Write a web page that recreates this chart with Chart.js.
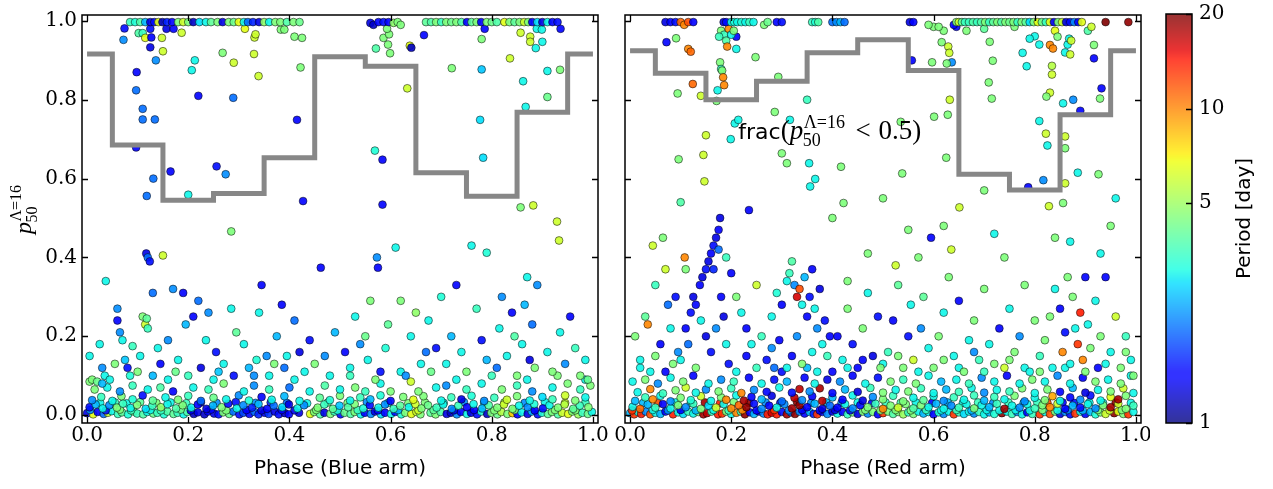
<!DOCTYPE html>
<html><head><meta charset="utf-8">
<script src="https://cdn.jsdelivr.net/npm/chart.js@4.4.1/dist/chart.umd.min.js"></script>
<style>
html,body{margin:0;padding:0;background:#fff;}
body{width:1273px;height:489px;position:relative;overflow:hidden;}
.box{position:absolute;top:0;height:489px;}
canvas{display:block;}
</style></head><body>
<div class="box" style="left:0;width:612px"><canvas id="c1" width="612" height="489"></canvas></div>
<div class="box" style="left:612px;width:538px"><canvas id="c2" width="538" height="489"></canvas></div>
<div class="box" style="left:1150px;width:123px"><canvas id="c3" width="123" height="489"></canvas></div>
<script>
// ---------------- data ----------------
const xTicks = [0, 0.2, 0.4, 0.6, 0.8, 1.0];
const yTicks = [0, 0.2, 0.4, 0.6, 0.8, 1.0];
const periodTicks = [1, 5, 10, 20];
const stepPhase = [0, 0.1, 0.2, 0.3, 0.4, 0.5, 0.6, 0.7, 0.8, 0.9, 1.0];
const blueFrac = [0.916, 0.685, 0.545, 0.562, 0.653, 0.909, 0.885, 0.615, 0.555, 0.768, 0.916];
const redFrac  = [0.924, 0.867, 0.800, 0.847, 0.919, 0.952, 0.874, 0.611, 0.571, 0.762, 0.924];

// [phase, p50, period]
const blueBand = [
[0,0.005,1.3],[0.012,0.002,6.5],[0.021,0.008,1.4],[0.033,0.003,2],[0.041,0.006,6],[0.049,0.01,3],[0.061,0.003,3.5],[0.069,0.007,4],[0.081,0.002,3.2],[0.092,0.009,4.5],[0.099,0.004,3.5],[0.111,0.002,3.8],[0.119,0.008,3],[0.131,0.004,4.2],[0.139,0.006,3.5],[0.152,0.002,3.2],[0.159,0.009,3.8],[0.171,0.003,4],[0.179,0.006,3.5],[0.191,0.002,3],[0.198,0.008,3.8],[0.211,0.003,1.2],[0.219,0.007,1.3],[0.232,0.002,1.2],[0.239,0.009,1.4],[0.251,0.004,1.3],[0.26,0.002,1.5],[0.269,0.007,4.5],[0.281,0.003,4.2],[0.289,0.009,2],[0.301,0.002,1.5],[0.309,0.006,1.8],[0.321,0.003,1.4],[0.331,0.008,2],[0.339,0.002,1.6],[0.351,0.006,1.4],[0.359,0.003,1.7],[0.371,0.009,1.3],[0.379,0.002,1.5],[0.391,0.005,1.2],[0.399,0.002,1.4],[0.419,0.006,1.3],[0.441,0.003,6.5],[0.449,0.008,4.5],[0.461,0.002,3.8],[0.469,0.006,1.3],[0.481,0.003,4.5],[0.489,0.009,3.5],[0.501,0.002,1.5],[0.509,0.006,4.2],[0.521,0.003,3.8],[0.529,0.008,4.5],[0.541,0.002,3],[0.549,0.006,1.4],[0.561,0.003,2.2],[0.569,0.009,1.3],[0.581,0.002,2.8],[0.589,0.006,1.4],[0.601,0.003,3],[0.609,0.008,1.5],[0.621,0.002,3.2],[0.629,0.006,4.5],[0.641,0.003,6.5],[0.651,0.008,6],[0.659,0.002,4.5],[0.679,0.006,4],[0.689,0.002,4.5],[0.699,0.008,3.8],[0.711,0.003,1.3],[0.719,0.006,1.2],[0.731,0.002,2.2],[0.739,0.008,1.4],[0.751,0.003,3],[0.759,0.006,1.3],[0.771,0.002,1.5],[0.779,0.009,3.2],[0.791,0.003,1.2],[0.799,0.006,4.5],[0.811,0.002,4.2],[0.819,0.008,5.5],[0.831,0.003,4.5],[0.841,0.005,8],[0.851,0.002,1.4],[0.859,0.007,3],[0.871,0.003,1.3],[0.879,0.009,2.5],[0.891,0.002,1.5],[0.899,0.006,3.2],[0.911,0.003,4],[0.919,0.008,4.5],[0.931,0.002,3.8],[0.939,0.006,6],[0.951,0.003,6.5],[0.959,0.009,4.5],[0.971,0.002,5],[0.979,0.006,3.5],[0.99,0.003,4.2],[0.998,0.008,3],
[0.006,0.013,2.2],[0.026,0.031,3],[0.037,0.012,1.5],[0.055,0.032,3.5],[0.065,0.014,4.5],[0.078,0.03,3],[0.087,0.012,3.5],[0.105,0.033,4],[0.125,0.013,3],[0.137,0.031,4.5],[0.146,0.012,3.5],[0.165,0.032,3],[0.185,0.014,4.2],[0.196,0.03,3.5],[0.205,0.012,1.3],[0.225,0.032,1.2],[0.245,0.014,1.4],[0.256,0.031,2.2],[0.275,0.012,4.5],[0.294,0.033,1.5],[0.315,0.013,1.4],[0.333,0.031,2.2],[0.345,0.012,1.3],[0.363,0.032,1.6],[0.385,0.013,1.4],[0.395,0.031,2],[0.41,0.012,1.3],[0.435,0.03,3],[0.453,0.013,4.5],[0.476,0.032,4],[0.495,0.012,3.2],[0.515,0.031,4.5],[0.535,0.013,3.5],[0.553,0.033,2.2],[0.575,0.012,1.4],[0.595,0.031,3],[0.615,0.013,2.5],[0.635,0.03,4.5],[0.655,0.012,6],[0.668,0.032,4.5],[0.685,0.013,4],[0.705,0.031,3],[0.725,0.012,1.3],[0.745,0.033,2.2],[0.765,0.013,1.4],[0.785,0.031,3],[0.805,0.012,4.5],[0.825,0.032,5],[0.845,0.013,4.5],[0.865,0.031,2.2],[0.885,0.012,1.4],[0.905,0.033,3],[0.925,0.013,4.5],[0.945,0.031,6],[0.965,0.012,4.5],[0.985,0.032,3.5],
[0.005,0.02,1.5],[0.017,0.027,2.5],[0.031,0.017,3],[0.044,0.025,2.2],[0.059,0.019,4.5],[0.071,0.029,3.5],[0.086,0.018,3],[0.099,0.026,4.5],[0.116,0.016,2.8],[0.129,0.024,3.5],[0.146,0.02,4.8],[0.159,0.028,3],[0.176,0.017,3.8],[0.189,0.025,4.5],[0.206,0.019,3],[0.219,0.027,1.4],[0.236,0.016,1.3],[0.249,0.024,2.5],[0.266,0.02,4.5],[0.279,0.029,1.5],[0.296,0.017,3],[0.309,0.025,2.2],[0.326,0.019,1.6],[0.339,0.028,2.5],[0.356,0.016,1.4],[0.369,0.024,2],[0.386,0.02,2.8],[0.399,0.027,1.3],[0.416,0.017,3],[0.429,0.025,2.2],[0.456,0.019,4.5],[0.469,0.027,3.5],[0.486,0.016,4],[0.499,0.024,2.6],[0.516,0.02,3.8],[0.529,0.028,4.5],[0.546,0.017,3.2],[0.559,0.025,1.5],[0.576,0.019,3],[0.589,0.027,2.2],[0.606,0.016,3.5],[0.619,0.024,4],[0.636,0.02,3],[0.649,0.028,6],[0.661,0.017,4.5],[0.674,0.025,4.2],[0.691,0.019,3.5],[0.704,0.027,3],[0.721,0.016,2.2],[0.734,0.024,3.5],[0.751,0.02,1.4],[0.764,0.028,3],[0.781,0.017,2.5],[0.794,0.025,3.8],[0.811,0.019,4.5],[0.824,0.027,6],[0.841,0.016,4.5],[0.854,0.024,3],[0.871,0.02,2.2],[0.884,0.028,3.2],[0.901,0.017,1.5],[0.914,0.025,3],[0.931,0.019,4.5],[0.944,0.027,5.5],[0.961,0.016,4],[0.974,0.024,3.5],[0.991,0.02,4.5],
[0.01,0.038,2.2],[0.028,0.046,3.5],[0.05,0.036,3],[0.068,0.048,4.5],[0.09,0.04,3.2],[0.11,0.05,1.5],[0.13,0.037,4],[0.155,0.045,3],[0.18,0.039,4.5],[0.2,0.049,3.5],[0.225,0.036,2],[0.25,0.044,4.2],[0.275,0.04,3],[0.3,0.05,2.2],[0.32,0.037,3.2],[0.345,0.046,1.4],[0.365,0.039,3],[0.39,0.048,2.5],[0.42,0.036,3],[0.46,0.044,4],[0.48,0.038,3.2],[0.5,0.049,4.5],[0.52,0.037,3],[0.54,0.045,3.5],[0.56,0.04,2.5],[0.58,0.05,3.2],[0.6,0.036,1.4],[0.625,0.046,4.5],[0.645,0.039,6.5],[0.665,0.048,4.5],[0.7,0.037,3],[0.72,0.045,3.5],[0.74,0.04,1.3],[0.76,0.049,3.2],[0.785,0.036,2.2],[0.805,0.044,3.5],[0.83,0.039,6],[0.85,0.048,4.5],[0.875,0.037,3],[0.9,0.046,2.8],[0.92,0.04,3.5],[0.945,0.05,6],[0.965,0.037,4.5],[0.985,0.045,3],
[0.015,0.065,4.5],[0.04,0.07,3],[0.065,0.06,2.2],[0.09,0.075,3.5],[0.12,0.065,3],[0.145,0.07,3.8],[0.17,0.06,1.4],[0.21,0.07,3],[0.24,0.065,3.5],[0.27,0.08,4.5],[0.31,0.06,3],[0.33,0.075,2.2],[0.36,0.065,3.5],[0.4,0.07,2],[0.44,0.06,3],[0.47,0.075,3.8],[0.5,0.065,3],[0.53,0.07,4.5],[0.55,0.06,3.5],[0.58,0.08,3],[0.6,0.06,4.5],[0.64,0.085,6],[0.655,0.06,4.5],[0.69,0.07,3],[0.71,0.075,2.2],[0.75,0.065,3.5],[0.78,0.08,3],[0.82,0.065,4.5],[0.85,0.075,3.5],[0.88,0.06,2.2],[0.92,0.07,3],[0.95,0.08,4.5],[0.975,0.065,3.5],[0.995,0.075,4.5],[0.005,0.085,4.5],[0.985,0.09,3],
[0.035,0.1,3],[0.1,0.11,4.5],[0.16,0.09,3],[0.2,0.1,3.5],[0.25,0.09,3],[0.33,0.1,2.2],[0.41,0.09,3],[0.52,0.1,3.5],[0.57,0.09,4.5],[0.62,0.11,3],[0.73,0.09,3],[0.8,0.1,3.5],[0.87,0.09,3],[0.93,0.1,4.5]
];
const blueLower = [
[0.005,0.15,3],[0.025,0.18,3],[0.037,0.34,3],[0.01,0.09,4.5],[0.02,0.085,4.2],[0.03,0.08,2.5],[0.045,0.09,3],[0.06,0.24,1.4],[0.065,0.21,2.2],[0.07,0.19,3],[0.075,0.14,2.6],[0.08,0.12,1.5],[0.085,0.1,3.2],[0.06,0.27,2.2],[0.09,0.175,3.5],[0.055,0.13,4.5],[0.03,0.12,2.2],
[0.11,0.25,4.5],[0.115,0.23,6],[0.118,0.245,4],[0.12,0.22,3.5],[0.117,0.41,1.3],[0.12,0.4,2],[0.124,0.39,1.5],[0.15,0.405,6],[0.13,0.31,2],[0.14,0.17,3],[0.145,0.13,1.4],[0.16,0.19,2.2],[0.17,0.32,2.2],[0.18,0.14,3],[0.19,0.31,1.4],[0.195,0.23,2.5],[0.175,0.11,4.2],[0.105,0.15,3],[0.13,0.1,2.5],
[0.22,0.29,2],[0.21,0.25,1.4],[0.235,0.19,3],[0.24,0.26,2.2],[0.255,0.16,1.5],[0.27,0.13,3],[0.285,0.27,3],[0.285,0.466,4.5],[0.295,0.21,4],[0.26,0.11,2.6],[0.225,0.12,1.3],[0.29,0.1,1.5],
[0.31,0.18,3],[0.32,0.12,2.5],[0.335,0.14,3.2],[0.34,0.26,3],[0.345,0.33,1.4],[0.355,0.15,2.2],[0.36,0.1,3],[0.37,0.13,4.5],[0.375,0.2,2.5],[0.385,0.28,1.4],[0.39,0.12,2],[0.395,0.15,3],
[0.41,0.24,2],[0.42,0.16,1.3],[0.43,0.11,3],[0.44,0.19,1.5],[0.45,0.13,4.5],[0.462,0.374,1.4],[0.47,0.15,2.2],[0.48,0.1,3],[0.49,0.21,2.5],
[0.51,0.16,1.4],[0.52,0.12,3],[0.53,0.25,3],[0.54,0.18,2.2],[0.55,0.2,4.2],[0.555,0.14,3],[0.56,0.29,4.5],[0.575,0.374,1.4],[0.573,0.4,2.2],[0.58,0.11,1.5],[0.59,0.17,3.2],[0.595,0.23,4],
[0.61,0.425,3],[0.62,0.29,4.5],[0.63,0.1,2.2],[0.64,0.2,3],[0.65,0.26,4.8],[0.66,0.13,3],[0.67,0.16,2],[0.675,0.24,3],[0.68,0.11,4.2],[0.69,0.17,1.5],[0.7,0.3,3.2],
[0.71,0.13,3],[0.72,0.2,2.5],[0.73,0.33,1.4],[0.74,0.16,3],[0.75,0.11,4.5],[0.76,0.43,3],[0.77,0.27,3.5],[0.78,0.19,1.5],[0.79,0.412,3.2],[0.79,0.14,2.5],
[0.81,0.12,2],[0.815,0.22,3],[0.82,0.3,2.2],[0.83,0.15,3],[0.84,0.26,1.4],[0.845,0.2,3.8],[0.85,0.1,4.5],[0.86,0.18,3],[0.865,0.28,2.5],[0.87,0.35,3],[0.875,0.14,1.3],[0.88,0.23,2],[0.885,0.12,4.5],[0.89,0.33,2.2],
[0.91,0.16,3],[0.92,0.11,4.5],[0.929,0.491,6],[0.933,0.443,6],[0.935,0.21,3],[0.945,0.13,2.2],[0.955,0.25,1.4],[0.965,0.17,3.5],[0.975,0.1,4.5],[0.985,0.14,3],[0.99,0.09,4.2]
];
const blueUpper = [
[0.097,0.679,1.4],[0.131,0.6,2],[0.165,0.618,1.4],[0.118,0.556,2],[0.2,0.559,3],[0.256,0.631,1.5],[0.274,0.611,2.2],[0.427,0.543,1.4],[0.11,0.777,2],[0.11,0.75,2],[0.134,0.75,2],[0.415,0.749,1.4],[0.569,0.671,3.2],[0.584,0.648,1.4],[0.584,0.534,1.4],[0.777,0.749,2.8],[0.783,0.653,2.8],[0.857,0.527,4.5],[0.882,0.532,6],
[0.074,0.981,1.5],[0.072,0.952,2.2],[0.102,0.969,3.8],[0.11,0.969,3.5],[0.115,0.957,6.5],[0.127,0.958,1.4],[0.125,0.98,1.5],[0.125,0.933,1.3],[0.148,0.957,6],[0.15,0.923,6],[0.136,0.9,2.2],[0.157,0.98,1.3],[0.171,0.98,1.4],[0.187,0.97,6],[0.213,0.9,3],[0.207,0.875,3],[0.268,0.919,4.5],[0.29,0.894,6],[0.33,0.916,6],[0.339,0.86,6],[0.331,0.958,6],[0.333,0.966,6],[0.312,0.98,6.5],[0.383,0.978,4.5],[0.39,0.978,4.5],[0.41,0.96,4.5],[0.425,0.957,4.5],[0.422,0.882,4.5],[0.098,0.87,1.4],[0.097,0.824,2],[0.22,0.81,1.4],[0.289,0.805,2],
[0.586,0.957,4.5],[0.597,0.966,4.5],[0.593,0.98,4.5],[0.571,0.93,3.8],[0.595,0.94,4.5],[0.599,0.918,4.5],[0.638,0.937,6.5],[0.641,0.932,1.2],[0.666,0.964,1.4],[0.633,0.829,6],[0.721,0.88,4.5],[0.78,0.877,2.6],[0.78,0.954,4.5],[0.786,0.98,1.4],[0.836,0.905,6],[0.876,0.96,6],[0.876,0.947,6],[0.887,0.931,3],[0.9,0.947,3],[0.889,0.98,3],[0.899,0.978,3],[0.862,0.847,3],[0.91,0.873,3],[0.935,0.876,4.5],[0.91,0.807,4.2],[0.867,0.782,3],[0.936,0.98,1.4],[0.857,0.97,6]
];
const blueTopRow = [
[0.085,0.997,3.5],[0.095,0.997,3.2],[0.105,0.997,3.8],[0.115,0.997,2.5],[0.125,0.997,1.3],[0.133,0.997,1.5],[0.141,0.997,6.5],[0.149,0.997,1.2],[0.158,0.997,1.6],[0.168,0.997,1.4],[0.18,0.997,4.5],[0.19,0.997,6],[0.2,0.997,4.5],[0.21,0.997,1.2],[0.222,0.997,2.8],[0.235,0.997,3],[0.245,0.997,4],[0.258,0.997,4.5],[0.268,0.997,1.3],[0.28,0.997,4.5],[0.29,0.997,4.2],[0.3,0.997,6.5],[0.31,0.997,3],[0.318,0.997,2],[0.328,0.997,1.6],[0.34,0.997,1.3],[0.35,0.997,4.8],[0.36,0.997,3],[0.372,0.997,4.5],[0.382,0.997,4.5],[0.395,0.997,3.8],[0.408,0.997,4.5],[0.42,0.997,4.2],
[0.56,0.995,1.3],[0.566,0.99,1.2],[0.576,0.997,1.4],[0.586,0.997,1.5],[0.596,0.997,1.4],[0.606,0.995,4.8],[0.614,0.997,4.5],[0.62,0.99,4.5],
[0.67,0.997,4],[0.68,0.997,3.8],[0.69,0.997,4.5],[0.7,0.997,3.5],[0.71,0.997,4.5],[0.72,0.997,4.2],[0.73,0.997,4.5],[0.74,0.997,3.8],[0.751,0.997,1.4],[0.76,0.997,4],[0.77,0.997,4.5],[0.779,0.997,1.4],[0.79,0.997,4.5],[0.8,0.997,4.2],[0.81,0.997,3.8],[0.825,0.997,6.5],[0.835,0.997,4.5],[0.845,0.997,4],[0.855,0.997,4.5],[0.864,0.997,6],[0.872,0.997,4.5],[0.88,0.997,1.4],[0.89,0.997,2.8],[0.9,0.997,1.3],[0.91,0.997,3],[0.92,0.997,1.4],[0.93,0.997,1.5]
];

const redBand = [
[0,0.005,2.5],[0.008,0.002,13],[0.016,0.008,3],[0.022,0.003,14],[0.031,0.009,2.2],[0.04,0.002,12],[0.05,0.006,3],[0.06,0.003,2.5],[0.07,0.009,1.4],[0.085,0.002,14],[0.095,0.007,3],[0.105,0.003,2.8],[0.115,0.009,3.5],[0.125,0.004,3],[0.135,0.008,4.5],[0.145,0.002,18],[0.152,0.005,17],[0.161,0.009,3.5],[0.174,0.002,14],[0.182,0.004,13],[0.19,0.009,4.5],[0.2,0.003,3],[0.21,0.006,10],[0.219,0.009,3.5],[0.227,0.002,19],[0.237,0.007,1.4],[0.245,0.003,2.5],[0.255,0.009,1.3],[0.264,0.004,2.2],[0.272,0.002,14],[0.28,0.006,16],[0.29,0.002,14],[0.3,0.008,1.5],[0.31,0.002,18],[0.318,0.007,2],[0.326,0.003,19],[0.335,0.009,2.2],[0.345,0.004,1.4],[0.355,0.008,2.5],[0.363,0.003,1.6],[0.37,0.002,13],[0.38,0.008,1.4],[0.39,0.003,2.2],[0.4,0.009,1.3],[0.41,0.004,3],[0.42,0.008,1.4],[0.43,0.002,3.5],[0.44,0.007,4.5],[0.45,0.003,1.3],[0.46,0.009,4.5],[0.47,0.004,2.2],[0.48,0.008,4.5],[0.49,0.002,1.4],[0.5,0.005,13],[0.51,0.009,4.5],[0.52,0.003,3.8],[0.53,0.008,4.5],[0.54,0.002,5],[0.55,0.007,3.5],[0.56,0.003,4.5],[0.57,0.009,3],[0.58,0.004,2.5],[0.59,0.008,3],[0.6,0.002,1.4],[0.61,0.007,3.2],[0.62,0.003,2.2],[0.63,0.009,3],[0.64,0.002,13],[0.65,0.007,3.5],[0.66,0.003,2.8],[0.67,0.009,3],[0.68,0.004,2.2],[0.69,0.008,3.5],[0.7,0.002,3],[0.71,0.007,2.5],[0.72,0.003,3.2],[0.735,0.005,19],[0.745,0.009,3],[0.755,0.003,3.5],[0.765,0.008,2.2],[0.775,0.002,3],[0.785,0.007,1.4],[0.795,0.003,3.5],[0.81,0.002,13],[0.82,0.008,3],[0.83,0.003,12],[0.84,0.009,4.5],[0.85,0.003,1.3],[0.86,0.008,2.2],[0.87,0.002,1.5],[0.88,0.004,13],[0.89,0.009,3],[0.9,0.003,1.4],[0.91,0.008,2.5],[0.92,0.002,3.2],[0.93,0.007,4.5],[0.94,0.003,6],[0.957,0.005,19],[0.965,0.009,6.5],[0.975,0.003,4.5],[0.985,0.002,13],[0.995,0.008,3],
[0.004,0.012,13],[0.026,0.031,2.5],[0.045,0.013,3],[0.055,0.03,12],[0.075,0.012,2.2],[0.09,0.032,3],[0.1,0.013,1.4],[0.12,0.031,3.5],[0.13,0.012,2.5],[0.148,0.032,18],[0.165,0.013,3],[0.178,0.03,14],[0.195,0.012,3.5],[0.205,0.033,4.5],[0.222,0.013,10],[0.235,0.031,19],[0.25,0.012,1.4],[0.268,0.032,2.2],[0.285,0.013,13],[0.297,0.031,1.5],[0.314,0.012,2.2],[0.33,0.033,19],[0.34,0.013,1.4],[0.358,0.031,2.2],[0.375,0.012,1.4],[0.388,0.032,2.5],[0.405,0.013,1.3],[0.418,0.031,2.2],[0.435,0.012,1.5],[0.45,0.032,3],[0.465,0.013,4.5],[0.478,0.03,1.4],[0.495,0.012,4.5],[0.505,0.032,3.5],[0.525,0.013,4.5],[0.535,0.031,3.8],[0.555,0.012,4.5],[0.565,0.032,3],[0.585,0.013,3.5],[0.597,0.031,1.4],[0.615,0.012,3],[0.628,0.032,2.5],[0.645,0.013,3.5],[0.658,0.031,3],[0.675,0.012,2.5],[0.688,0.032,3.5],[0.705,0.013,3],[0.718,0.031,2.2],[0.73,0.012,3],[0.748,0.032,3.5],[0.762,0.013,3],[0.778,0.031,2.5],[0.79,0.012,3],[0.805,0.032,3.5],[0.815,0.013,4.5],[0.825,0.031,12],[0.845,0.012,3],[0.855,0.032,1.4],[0.865,0.013,2.2],[0.878,0.031,1.5],[0.895,0.012,2.5],[0.908,0.032,3],[0.925,0.013,4.5],[0.935,0.031,3],[0.948,0.012,6],[0.96,0.032,19],[0.972,0.013,4.5],[0.99,0.031,3],
[0.005,0.021,3],[0.02,0.016,11],[0.035,0.027,2.5],[0.05,0.019,3.5],[0.065,0.028,1.4],[0.08,0.017,3],[0.095,0.025,4.5],[0.11,0.02,2.2],[0.125,0.029,3.5],[0.14,0.016,4.5],[0.155,0.024,2.8],[0.17,0.019,6],[0.185,0.028,3],[0.2,0.017,10],[0.215,0.025,11],[0.23,0.02,19],[0.245,0.029,1.5],[0.26,0.016,2.2],[0.275,0.024,1.4],[0.29,0.019,3],[0.305,0.028,2.2],[0.32,0.017,18],[0.335,0.025,19],[0.35,0.02,1.4],[0.365,0.029,2.5],[0.38,0.016,1.3],[0.395,0.024,2],[0.41,0.019,1.4],[0.425,0.028,3],[0.44,0.017,2.2],[0.455,0.025,1.5],[0.47,0.02,4.5],[0.485,0.029,3.5],[0.5,0.016,10],[0.515,0.024,4.5],[0.53,0.019,6],[0.545,0.028,4.5],[0.56,0.017,3.8],[0.575,0.025,4.5],[0.59,0.02,3],[0.605,0.029,2.5],[0.62,0.016,3],[0.635,0.024,2.2],[0.65,0.019,3.5],[0.665,0.028,3],[0.68,0.017,4.5],[0.695,0.025,3],[0.71,0.02,2.5],[0.725,0.029,3.5],[0.74,0.016,18],[0.755,0.024,3],[0.77,0.019,2.2],[0.785,0.028,3],[0.8,0.017,3.5],[0.815,0.025,4.5],[0.83,0.02,10],[0.845,0.029,6],[0.86,0.016,1.4],[0.875,0.024,2.5],[0.89,0.019,1.5],[0.905,0.028,3],[0.92,0.017,2.2],[0.935,0.025,4.5],[0.95,0.02,18],[0.965,0.029,6],[0.98,0.016,4.5],[0.995,0.024,3.5],
[0.01,0.036,2.5],[0.03,0.045,3.5],[0.045,0.04,10],[0.06,0.049,3],[0.08,0.035,2.2],[0.1,0.044,4.5],[0.12,0.038,3.2],[0.14,0.048,6],[0.16,0.036,3],[0.18,0.045,4.5],[0.19,0.039,10],[0.21,0.05,3],[0.225,0.037,18],[0.24,0.046,1.4],[0.26,0.04,2.5],[0.28,0.049,1.3],[0.3,0.035,2],[0.325,0.044,17],[0.34,0.038,2.2],[0.36,0.048,1.4],[0.38,0.036,17],[0.4,0.045,2.5],[0.42,0.039,1.4],[0.44,0.05,3],[0.46,0.037,1.3],[0.48,0.046,2.2],[0.5,0.04,4.5],[0.52,0.049,3.5],[0.54,0.035,4.5],[0.56,0.044,3],[0.58,0.038,4],[0.6,0.048,3],[0.62,0.036,2.2],[0.64,0.045,3.5],[0.66,0.039,3],[0.68,0.05,3.5],[0.7,0.037,2.5],[0.72,0.046,3.5],[0.74,0.04,3],[0.76,0.049,4.5],[0.78,0.035,2.2],[0.8,0.044,3],[0.82,0.038,4.5],[0.835,0.048,9],[0.85,0.036,3],[0.87,0.045,1.4],[0.89,0.039,2.2],[0.91,0.05,1.5],[0.93,0.037,3],[0.95,0.046,6.5],[0.965,0.04,18],[0.98,0.049,4.5],
[0.015,0.058,3],[0.04,0.066,10],[0.065,0.055,3.5],[0.09,0.063,4.5],[0.11,0.07,6],[0.13,0.057,3],[0.15,0.065,2.2],[0.175,0.06,4.5],[0.2,0.068,3.5],[0.22,0.056,10],[0.245,0.064,2.2],[0.27,0.059,1.4],[0.295,0.07,3],[0.32,0.057,1.5],[0.335,0.066,17],[0.355,0.06,2.2],[0.375,0.068,18],[0.4,0.056,1.4],[0.425,0.065,2.5],[0.45,0.059,1.3],[0.475,0.069,3.5],[0.5,0.057,4.5],[0.525,0.064,3],[0.55,0.06,4.5],[0.575,0.068,3.5],[0.6,0.056,3],[0.625,0.065,2.5],[0.65,0.059,3.5],[0.675,0.069,3],[0.7,0.057,2.2],[0.725,0.064,3],[0.75,0.06,3.5],[0.775,0.068,4.5],[0.8,0.056,3],[0.825,0.065,4.5],[0.85,0.059,1.4],[0.875,0.069,2.5],[0.9,0.057,1.3],[0.925,0.064,3],[0.95,0.06,4.5],[0.975,0.068,6],[0.995,0.056,3],
[0.005,0.085,3],[0.03,0.09,4.5],[0.055,0.08,2.2],[0.08,0.095,3],[0.105,0.085,4.5],[0.125,0.1,1.4],[0.155,0.08,3],[0.18,0.09,2.2],[0.205,0.085,3.5],[0.235,0.095,1.4],[0.26,0.08,3],[0.285,0.09,1.5],[0.31,0.085,2.5],[0.345,0.095,1.4],[0.365,0.08,3],[0.39,0.09,1.3],[0.415,0.085,2.2],[0.44,0.1,1.4],[0.465,0.08,3],[0.49,0.095,1.5],[0.515,0.085,4.5],[0.54,0.09,3.5],[0.565,0.08,4.5],[0.59,0.1,3],[0.615,0.085,2.5],[0.645,0.09,3],[0.67,0.08,3.5],[0.695,0.095,2.2],[0.72,0.085,3],[0.745,0.1,1.4],[0.77,0.08,3],[0.795,0.09,4.5],[0.82,0.085,3],[0.845,0.1,2.2],[0.87,0.08,3],[0.895,0.095,1.4],[0.92,0.085,4.5],[0.945,0.09,3],[0.97,0.08,4.5],[0.99,0.1,3],
[0.02,0.12,3],[0.05,0.15,4.5],[0.07,0.11,1.4],[0.1,0.14,3],[0.13,0.12,4.5],[0.21,0.11,3],[0.23,0.15,1.4],[0.25,0.12,3.5],[0.28,0.17,2.2],[0.3,0.11,1.5],[0.35,0.12,2.5],[0.37,0.11,3],[0.4,0.11,1.4],[0.43,0.12,3],[0.46,0.14,1.4],[0.5,0.13,3],[0.53,0.15,4.5],[0.57,0.11,3],[0.62,0.14,4.5],[0.65,0.12,3],[0.68,0.16,2.2],[0.7,0.11,3.5],[0.75,0.14,4.5],[0.78,0.12,3],[0.81,0.11,4.5],[0.86,0.12,3],[0.9,0.11,4.5],[0.94,0.13,3],[0.98,0.16,4.5]
];
const redLower = [
[0.01,0.2,4.5],[0.02,0.14,3],[0.03,0.25,4],[0.04,0.11,3],[0.05,0.33,3.5],[0.06,0.18,1.4],[0.07,0.37,6],[0.075,0.28,2],[0.08,0.22,3],[0.085,0.13,4.5],[0.09,0.3,1.5],[0.095,0.16,2.2],[0.108,0.4,10],[0.11,0.37,4.5],[0.045,0.43,6],[0.065,0.45,4.5],[0.035,0.23,10],
[0.138,0.33,1.4],[0.143,0.35,1.3],[0.15,0.37,1.5],[0.155,0.39,1.3],[0.16,0.41,1.4],[0.165,0.43,1.5],[0.17,0.45,1.3],[0.175,0.47,1.4],[0.178,0.5,1.3],[0.175,0.42,2],[0.165,0.37,1.6],[0.13,0.28,1.4],[0.125,0.3,1.3],[0.12,0.26,1.5],[0.11,0.22,1.4],[0.115,0.18,2],[0.14,0.24,3],[0.15,0.2,1.3],[0.16,0.16,1.5],[0.17,0.22,2.2],[0.18,0.3,1.4],[0.185,0.25,1.3],[0.19,0.18,3],[0.195,0.13,1.5],[0.19,0.4,3.5],[0.2,0.36,1.4],
[0.21,0.3,4.5],[0.22,0.26,3],[0.23,0.22,1.4],[0.24,0.18,3],[0.25,0.33,6],[0.26,0.2,3.5],[0.27,0.14,1.5],[0.28,0.25,3],[0.285,0.12,2],[0.29,0.31,3.2],[0.295,0.19,1.4],[0.3,0.28,1.4],
[0.31,0.34,3],[0.315,0.36,3.5],[0.32,0.39,3.8],[0.325,0.33,2.2],[0.33,0.3,16],[0.335,0.32,12],[0.34,0.28,3],[0.345,0.35,2.5],[0.35,0.25,1.4],[0.355,0.3,1.5],[0.36,0.37,1.4],[0.365,0.27,3],[0.37,0.22,2.2],[0.375,0.32,1.3],[0.38,0.18,3],[0.385,0.24,1.5],[0.39,0.15,3.5],[0.395,0.2,1.4],[0.33,0.2,2.2],[0.32,0.15,1.4],[0.31,0.12,3],[0.34,0.13,4.5],[0.36,0.16,3],
[0.41,0.2,1.4],[0.42,0.14,3],[0.43,0.27,4.5],[0.44,0.18,1.5],[0.45,0.12,1.4],[0.46,0.22,4.5],[0.47,0.31,3],[0.48,0.15,1.3],[0.49,0.25,1.5],[0.495,0.12,4.5],[0.43,0.34,4.5],[0.47,0.41,4.5],
[0.51,0.16,3.5],[0.52,0.24,1.4],[0.53,0.33,4],[0.54,0.12,4.5],[0.55,0.2,1.5],[0.555,0.28,3],[0.56,0.14,6],[0.57,0.4,4.5],[0.575,0.22,2.2],[0.58,0.3,4],[0.59,0.17,3],[0.595,0.45,1.4],[0.6,0.12,4.5],[0.55,0.47,4.5],[0.525,0.38,6],
[0.61,0.2,4.5],[0.62,0.26,3],[0.63,0.35,4.5],[0.635,0.42,6],[0.64,0.15,3],[0.65,0.29,1.4],[0.66,0.11,4.5],[0.67,0.19,3],[0.68,0.24,4.5],[0.69,0.14,3.5],[0.7,0.32,4.5],[0.62,0.48,4.5],
[0.71,0.18,3],[0.72,0.13,4.5],[0.73,0.22,1.4],[0.74,0.12,6],[0.75,0.27,3],[0.76,0.16,4.5],[0.77,0.2,2.2],[0.78,0.33,4.5],[0.79,0.11,3],[0.8,0.24,4.5],[0.74,0.4,4.5],[0.72,0.46,3],
[0.81,0.15,3.5],[0.82,0.19,4.5],[0.83,0.25,4.5],[0.835,0.12,3],[0.84,0.32,3],[0.85,0.27,1.4],[0.855,0.16,10],[0.86,0.21,1.5],[0.865,0.35,4.5],[0.87,0.13,3],[0.875,0.3,4.5],[0.88,0.22,3],[0.885,0.18,13],[0.89,0.26,14],[0.895,0.14,10],[0.9,0.35,1.4],[0.84,0.45,4.5],[0.87,0.44,3],
[0.905,0.23,3],[0.91,0.17,4.5],[0.92,0.29,3],[0.925,0.12,1.4],[0.93,0.2,4.5],[0.94,0.35,1.4],[0.95,0.16,3],[0.96,0.25,6],[0.97,0.12,4.5],[0.98,0.2,3.5],[0.99,0.14,3],[0.995,0.1,4.5],[0.93,0.41,3],[0.95,0.48,4.5]
];
const redUpper = [
[0.1,0.54,3.8],[0.147,0.593,6],[0.145,0.66,6],[0.096,0.649,4.5],[0.15,0.71,6],[0.199,0.7,3],[0.207,0.74,3],[0.214,0.749,3],[0.286,0.769,4.5],[0.316,0.749,3],[0.3,0.664,4.5],[0.31,0.639,4.5],[0.354,0.639,3],[0.366,0.599,3],[0.356,0.58,3],[0.417,0.63,4.5],[0.422,0.538,4.5],[0.538,0.613,4.5],[0.535,0.744,4.5],[0.601,0.757,4.5],[0.628,0.762,4.5],[0.625,0.653,4.5],[0.632,0.8,6],[0.651,0.527,6],[0.235,0.52,1.4],[0.4,0.5,4.5],[0.5,0.55,4.5],[0.7,0.57,4.5],[0.96,0.55,3],
[0.072,0.946,1.4],[0.091,0.956,4.5],[0.115,0.929,10],[0.12,0.922,11],[0.124,0.84,11],[0.094,0.816,4.5],[0.14,0.81,6],[0.171,0.797,4.5],[0.173,0.824,3],[0.178,0.895,4.5],[0.18,0.878,3.5],[0.182,0.874,4.5],[0.184,0.857,10],[0.186,0.837,10],[0.21,0.929,3],[0.21,0.96,1.4],[0.248,0.908,4.5],[0.293,0.858,4.5],[0.35,0.8,3.5],
[0.18,0.975,4.5],[0.186,0.965,3.5],[0.19,0.95,3.8],[0.195,0.98,10],[0.2,0.965,3],[0.205,0.975,4.5],[0.176,0.96,3.5],[0.192,0.935,10],
[0.597,0.895,4.5],[0.616,0.946,4.5],[0.629,0.935,6],[0.631,0.919,6],[0.636,0.895,2.2],[0.626,0.892,4.5],[0.557,0.9,1.4],[0.6,0.985,4.5],[0.62,0.975,4.5],[0.645,0.985,1.4],[0.665,0.975,4.5],[0.7,0.98,4],
[0.711,0.947,4.5],[0.717,0.899,4.5],[0.709,0.844,4.5],[0.715,0.803,4.5],[0.776,0.919,3],[0.784,0.885,3],[0.8,0.961,3],[0.809,0.94,3],[0.79,0.955,3],[0.76,0.985,4.5],[0.83,0.939,10],[0.836,0.93,10],[0.834,0.886,5.5],[0.834,0.864,6],[0.83,0.818,6],[0.823,0.808,4.5],[0.84,0.975,6.5],[0.845,0.96,4.5],[0.86,0.92,3],[0.865,0.94,3],[0.87,0.915,6],[0.868,0.955,3],[0.872,0.95,6],[0.905,0.975,3.8],[0.912,0.985,6],[0.917,0.939,4.5],[0.917,0.905,1.4],[0.932,0.829,1.4],[0.929,0.803,4.5],[0.876,0.8,2.2],[0.856,0.791,3],[0.89,0.772,1.4],[0.809,0.746,3],[0.822,0.714,6],[0.825,0.684,3],[0.86,0.707,6],[0.86,0.677,4.5],[0.885,0.615,3],[0.926,0.611,4.5],[0.817,0.596,2.2],[0.787,0.578,1.4],[0.86,0.588,6],[0.828,0.53,6],[0.856,0.538,4.5]
];
const redTopRow = [
[0.07,0.997,1.3],[0.08,0.997,1.4],[0.09,0.997,1.5],[0.1,0.997,11],[0.107,0.99,10],[0.115,0.997,12],[0.125,0.997,1.4],
[0.185,0.997,1.3],[0.19,0.997,1.5],[0.2,0.997,3],[0.206,0.997,3.2],[0.212,0.997,3],[0.22,0.997,3.2],[0.228,0.997,3],[0.236,0.997,3.5],[0.244,0.997,3],
[0.265,0.99,4.5],[0.272,0.997,4.2],[0.29,0.997,1.4],[0.3,0.997,1.5],
[0.36,0.997,3.5],[0.366,0.997,3.2],[0.372,0.997,3.8],
[0.4,0.997,2],[0.408,0.997,2.2],[0.416,0.997,2.5],[0.424,0.997,2],
[0.553,0.997,1.3],[0.56,0.997,1.4],[0.59,0.99,4.5],[0.61,0.985,4.5],
[0.64,0.99,1.4],[0.645,0.997,4.5],[0.65,0.997,6],[0.656,0.997,4],[0.662,0.997,3.5],[0.67,0.997,3.5],[0.678,0.997,3.8],[0.686,0.997,3.5],[0.694,0.997,3.8],[0.702,0.997,4.5],[0.71,0.997,3.5],[0.718,0.997,4],[0.726,0.997,4.5],[0.734,0.997,3.8],[0.742,0.997,4.5],[0.75,0.997,4.2],[0.758,0.997,4.5],[0.766,0.997,3.5],[0.774,0.997,4.5],[0.782,0.997,4],[0.79,0.997,2.8],[0.798,0.997,4.5],[0.806,0.997,6.5],[0.814,0.997,4.2],[0.822,0.997,3.5],[0.83,0.997,6.5],[0.838,0.997,1.4],[0.846,0.997,4.5],[0.854,0.997,6],[0.862,0.997,1.3],[0.87,0.997,1.5],[0.878,0.997,2.2],[0.886,0.997,1.4],[0.893,0.997,6.5],[0.94,0.997,20],[0.985,0.997,19]
];

const bluePoints = [...blueBand, ...blueLower, ...blueUpper, ...blueTopRow];
const redPoints = [...redBand, ...redLower, ...redUpper, ...redTopRow];

// ---------------- colour map (jet) ----------------
const jetR = [[0,0],[0.35,0],[0.66,1],[0.89,1],[1,0.5]];
const jetG = [[0,0],[0.125,0],[0.375,1],[0.64,1],[0.91,0],[1,0]];
const jetB = [[0,0.5],[0.11,1],[0.34,1],[0.65,0],[1,0]];
function seg(s, t){ for(let i=1;i<s.length;i++){ if(t<=s[i][0]){ const a=s[i-1], b=s[i]; return a[1]+(b[1]-a[1])*(t-a[0])/(b[0]-a[0]); } } return s[s.length-1][1]; }
function jet(t, a){ t=Math.max(0,Math.min(1,t)); return 'rgba('+Math.round(255*seg(jetR,t))+','+Math.round(255*seg(jetG,t))+','+Math.round(255*seg(jetB,t))+','+a+')'; }
const PMIN = 1, PMAX = 20;
function periodColor(p, a){ return jet(Math.log(p/PMIN)/Math.log(PMAX/PMIN), a); }

// ---------------- helpers ----------------
const SERIF = '"DejaVu Serif", "Liberation Serif", serif';
const MATH = '"Liberation Serif", "DejaVu Serif", serif';
const SANS = '"DejaVu Sans", sans-serif';
const tickFont = {family: SERIF, size: 20, lineHeight: 1.2};

function frameTicks(chart){
  const {ctx, chartArea: a, scales: {x, y}} = chart;
  ctx.save();
  ctx.strokeStyle = '#000'; ctx.lineWidth = 1.3;
  ctx.beginPath();
  xTicks.forEach(v => { const px = Math.round(x.getPixelForValue(v))+0.5;
    ctx.moveTo(px, a.bottom); ctx.lineTo(px, a.bottom-6);
    ctx.moveTo(px, a.top); ctx.lineTo(px, a.top+6); });
  yTicks.forEach(v => { const py = Math.round(y.getPixelForValue(v))+0.5;
    ctx.moveTo(a.left, py); ctx.lineTo(a.left+6, py);
    ctx.moveTo(a.right, py); ctx.lineTo(a.right-6, py); });
  ctx.stroke();
  ctx.lineWidth = 1.5;
  ctx.strokeRect(a.left, a.top, a.right-a.left, a.bottom-a.top);
  ctx.restore();
}

function zeroPad(s){ s.paddingLeft=0; s.paddingRight=0; s.paddingTop=0; s.paddingBottom=0; }

function panelConfig(points, frac, opts){
  return {
    data: { datasets: [
      { type:'line', label:'frac', data: stepPhase.map((v,i)=>({x:v, y:frac[i]})), stepped:'middle',
        borderColor:'#878787', borderWidth:5, pointRadius:0, fill:false, order:0, borderCapStyle:'butt', borderJoinStyle:'miter' },
      { type:'scatter', label:'sources', data: points.map(p=>({x:p[0], y:p[1]})),
        pointBackgroundColor: points.map(p=>periodColor(p[2], 0.9)), pointBorderColor:'rgba(0,0,0,0.85)',
        pointBorderWidth:0.6, pointRadius:3.9, pointHoverRadius:3.9, order:1 }
    ]},
    options: {
      responsive:false, animation:false, events:[],
      layout:{ padding:{ left:0, right:opts.padRight, top:15, bottom:0 } },
      plugins:{ legend:{display:false}, tooltip:{enabled:false} },
      scales:{
        x:{ type:'linear', min:-0.01, max:1.01,
            grid:{display:false, drawTicks:false}, border:{display:false},
            afterBuildTicks: s => { s.ticks = xTicks.map(v=>({value:v})); },
            afterFit: s => { s.height = 66; zeroPad(s); },
            ticks:{ autoSkip:false, maxRotation:0, padding:1, color:'#000', font:tickFont,
                    callback: v => Number(v).toFixed(1) } },
        y:{ type:'linear', min:-0.02, max:1.015,
            grid:{display:false, drawTicks:false}, border:{display:false},
            afterBuildTicks: s => { s.ticks = yTicks.map(v=>({value:v})); },
            afterFit: s => { s.width = opts.yWidth; zeroPad(s); },
            ticks:{ display: opts.yLabels, autoSkip:false, padding:5, color:'#000', font:tickFont,
                    callback: v => Number(v).toFixed(1) } }
      }
    },
    plugins:[{ id:'decor', afterDraw(chart){ frameTicks(chart); opts.text(chart); } }]
  };
}

function drawMathP(ctx, x, y, big, small){
  ctx.font = 'italic '+big+'px '+MATH; ctx.fillText('p', x, y);
  const pw = ctx.measureText('p').width;
  ctx.font = small+'px '+MATH;
  const supW = ctx.measureText('Λ=16').width, subW = ctx.measureText('50').width;
  ctx.fillText('Λ=16', x+pw+0.5, y-big*0.42);
  ctx.fillText('50', x+pw-0.5, y+big*0.26);
  return x + pw + Math.max(supW, subW);
}

// ---------------- left panel ----------------
new Chart(document.getElementById('c1'), panelConfig(bluePoints, blueFrac, {
  padRight:14, yWidth:82, yLabels:true,
  text(chart){
    const ctx = chart.ctx, a = chart.chartArea;
    ctx.save(); ctx.fillStyle = '#000';
    ctx.font = '20px '+SANS; ctx.textAlign='center'; ctx.textBaseline='alphabetic';
    ctx.fillText('Phase (Blue arm)', (a.left+a.right)/2, 474);
    ctx.textAlign='left';
    ctx.translate(31, 234); ctx.rotate(-Math.PI/2);
    drawMathP(ctx, 0, 0, 24, 16);
    ctx.restore();
  }
}));

// ---------------- right panel ----------------
new Chart(document.getElementById('c2'), panelConfig(redPoints, redFrac, {
  padRight:9, yWidth:13, yLabels:false,
  text(chart){
    const ctx = chart.ctx, a = chart.chartArea, {x, y} = chart.scales;
    ctx.save(); ctx.fillStyle = '#000';
    ctx.font = '20px '+SANS; ctx.textAlign='center'; ctx.textBaseline='alphabetic';
    ctx.fillText('Phase (Red arm)', (a.left+a.right)/2, 474);
    ctx.textAlign='left';
    let px = x.getPixelForValue(0.214), py = y.getPixelForValue(0.70);
    ctx.font = '22px '+SANS; ctx.fillText('frac', px, py); px += ctx.measureText('frac').width;
    ctx.font = '27px '+MATH; ctx.fillText('(', px, py); px += ctx.measureText('(').width;
    px = drawMathP(ctx, px, py, 27, 18);
    px += 11;
    ctx.font = '27px '+MATH; ctx.fillText('<', px, py); px += ctx.measureText('<').width + 8;
    ctx.fillText('0.5)', px, py);
    ctx.restore();
  }
}));

// ---------------- colour bar ----------------
new Chart(document.getElementById('c3'), {
  type:'scatter',
  data:{ datasets:[{ data:[] }] },
  options:{
    responsive:false, animation:false, events:[],
    layout:{ padding:{ left:16, right:0, top:14, bottom:66 } },
    plugins:{ legend:{display:false}, tooltip:{enabled:false} },
    scales:{
      x:{ display:false, min:0, max:1 },
      y:{ type:'logarithmic', position:'right', min:PMIN, max:PMAX,
          grid:{display:false, drawTicks:false}, border:{display:false},
          afterBuildTicks: s => { s.ticks = periodTicks.map(v=>({value:v})); },
          afterFit: s => { s.width = 81; zeroPad(s); },
          ticks:{ autoSkip:false, padding:7, color:'#000', font:tickFont, callback: v => String(v) } }
    }
  },
  plugins:[{ id:'cbar',
    beforeDatasetsDraw(chart){
      const {ctx, chartArea:a, scales:{y}} = chart;
      for(let py=Math.floor(a.top); py<Math.ceil(a.bottom); py++){
        const v = y.getValueForPixel(py+0.5);
        ctx.fillStyle = periodColor(Math.min(PMAX, Math.max(PMIN, v)), 0.8);
        ctx.fillRect(a.left, py, a.right-a.left, 1);
      }
    },
    afterDraw(chart){
      const {ctx, chartArea:a, scales:{y}} = chart;
      ctx.save();
      ctx.strokeStyle='#000'; ctx.lineWidth=1.3;
      ctx.beginPath();
      periodTicks.forEach(v=>{ const py=Math.round(y.getPixelForValue(v))+0.5; ctx.moveTo(a.right, py); ctx.lineTo(a.right-6, py); });
      ctx.stroke();
      ctx.lineWidth=1.5; ctx.strokeRect(a.left, a.top, a.right-a.left, a.bottom-a.top);
      ctx.fillStyle='#000'; ctx.font='20px '+SANS; ctx.textAlign='center'; ctx.textBaseline='middle';
      ctx.translate(95, (a.top+a.bottom)/2); ctx.rotate(-Math.PI/2);
      ctx.fillText('Period [day]', 0, 0);
      ctx.restore();
    }
  }]
});
</script>
</body></html>
